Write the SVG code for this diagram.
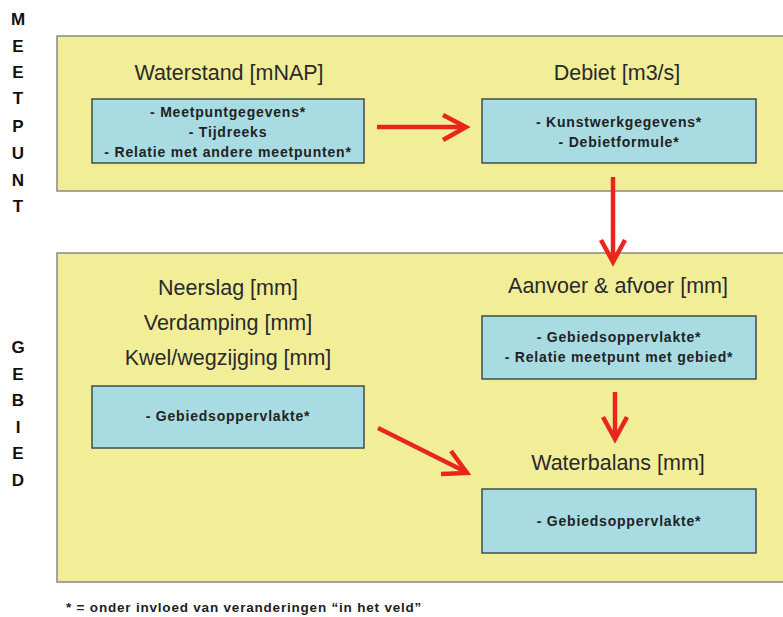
<svg xmlns="http://www.w3.org/2000/svg" width="783" height="617" viewBox="0 0 783 617">
<defs>
<style>
.panel{fill:#f2ee98;stroke:#8a8a80;stroke-width:1.5}
.box{fill:#a8dce2;stroke:#3e4e50;stroke-width:1.5}
.title{font-family:"Liberation Sans",Arial,sans-serif;font-size:21.5px;fill:#2a2a2a;text-anchor:middle}
.item{font-family:"Liberation Sans",Arial,sans-serif;font-size:14px;font-weight:bold;letter-spacing:0.8px;fill:#222;text-anchor:middle}
.side{font-family:"Liberation Sans",Arial,sans-serif;font-size:17px;font-weight:bold;fill:#111;text-anchor:middle}
.note{font-family:"Liberation Sans",Arial,sans-serif;font-size:13.5px;font-weight:bold;letter-spacing:0.8px;fill:#222}
.arr{fill:none;stroke:#e8261e;stroke-width:4.5;stroke-linecap:butt}
.head{fill:none;stroke:#e8261e;stroke-width:4.5;stroke-linejoin:miter}
</style>
</defs>
<rect width="783" height="617" fill="#ffffff"/>
<g id="label-meetpunt">
<text class="side" x="18" y="25">M</text>
<text class="side" x="18" y="52">E</text>
<text class="side" x="18" y="78">E</text>
<text class="side" x="18" y="104">T</text>
<text class="side" x="18" y="132">P</text>
<text class="side" x="18" y="159">U</text>
<text class="side" x="18" y="186">N</text>
<text class="side" x="18" y="212">T</text>
</g>
<g id="label-gebied">
<text class="side" x="18" y="353">G</text>
<text class="side" x="18" y="380">E</text>
<text class="side" x="18" y="406">B</text>
<text class="side" x="18" y="433">I</text>
<text class="side" x="18" y="459">E</text>
<text class="side" x="18" y="486">D</text>
</g>
<g id="panel-meetpunt"><rect class="panel" x="57" y="36" width="730" height="155"/></g>
<g id="panel-gebied"><rect class="panel" x="57" y="253" width="730" height="329"/></g>
<g id="waterstand">
<text class="title" x="229" y="80">Waterstand [mNAP]</text>
<rect class="box" x="92" y="99" width="272" height="64"/>
<text class="item" x="228" y="117">- Meetpuntgegevens*</text>
<text class="item" x="228" y="137">- Tijdreeks</text>
<text class="item" x="228" y="157">- Relatie met andere meetpunten*</text>
</g>
<g id="debiet">
<text class="title" x="617" y="80">Debiet [m3/s]</text>
<rect class="box" x="482" y="99" width="274" height="64"/>
<text class="item" x="619" y="127">- Kunstwerkgegevens*</text>
<text class="item" x="619" y="147">- Debietformule*</text>
</g>
<g id="gebied-meteo">
<text class="title" x="228" y="295">Neerslag [mm]</text>
<text class="title" x="228" y="330">Verdamping [mm]</text>
<text class="title" x="228" y="365">Kwel/wegzijging [mm]</text>
<rect class="box" x="92" y="386" width="272" height="62"/>
<text class="item" x="228" y="421">- Gebiedsoppervlakte*</text>
</g>
<g id="aanvoer-afvoer">
<text class="title" x="618" y="293">Aanvoer &amp; afvoer [mm]</text>
<rect class="box" x="482" y="316" width="274" height="63"/>
<text class="item" x="619" y="342">- Gebiedsoppervlakte*</text>
<text class="item" x="619" y="362">- Relatie meetpunt met gebied*</text>
</g>
<g id="waterbalans">
<text class="title" x="618" y="470">Waterbalans [mm]</text>
<rect class="box" x="482" y="489" width="274" height="64"/>
<text class="item" x="619" y="526">- Gebiedsoppervlakte*</text>
</g>
<g id="connectors">
<line class="arr" x1="377" y1="127" x2="464" y2="127"/>
<polyline class="head" points="443,115 466,127 443,140"/>
<line class="arr" x1="613" y1="177" x2="613" y2="260"/>
<polyline class="head" points="601,240 613,262 625,240"/>
<line class="arr" x1="378" y1="428" x2="464" y2="471"/>
<polyline class="head" points="451,451 467,473 441,474"/>
<line class="arr" x1="615" y1="392" x2="615" y2="437"/>
<polyline class="head" points="603,417 615,439 627,417"/>
</g>
<g id="footnote">
<text class="note" x="66" y="612">* = onder invloed van veranderingen “in het veld”</text>
</g>
</svg>
